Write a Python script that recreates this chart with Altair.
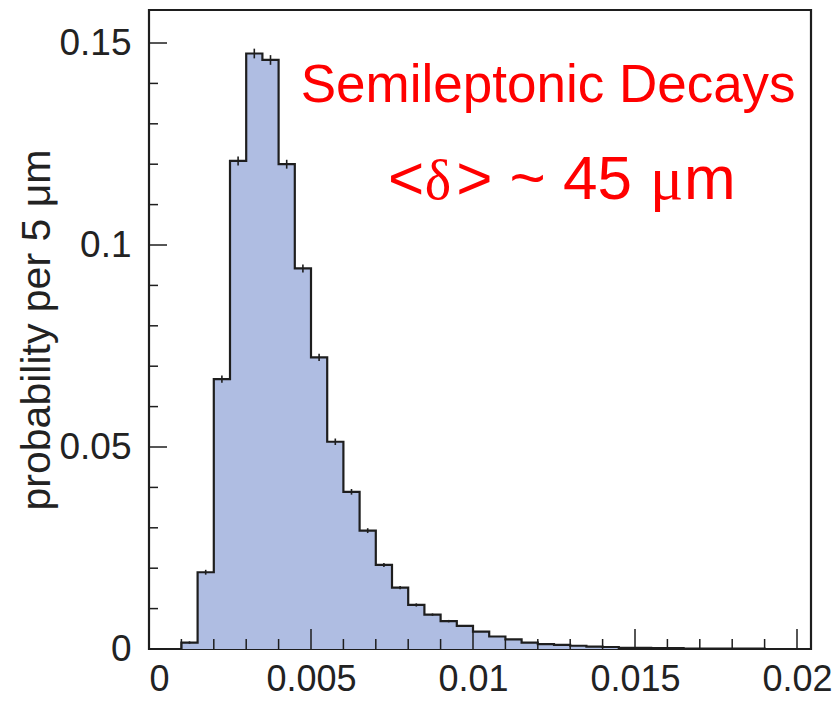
import altair as alt
import pandas as pd

# ---- data ----
bin_width = 0.0005
probability = [0, 0, 0.0016, 0.019, 0.0668, 0.1208, 0.1474, 0.1458,
               0.1200, 0.0942, 0.0722, 0.0513, 0.0389, 0.0293, 0.0208, 0.0152,
               0.0109, 0.0085, 0.0069, 0.0057, 0.0043, 0.0031, 0.0024, 0.0016,
               0.0012, 0.0010, 0.0008, 0.0006, 0.0005, 0.0003, 0.0003, 0.0002,
               0.0002, 0.0001, 0.0001, 0.0001, 0.0001, 0.0001, 0.0, 0.0]
errors = [0, 0, 0.0003, 0.0006, 0.0009, 0.0011, 0.0012, 0.0012,
          0.0011, 0.0010, 0.0009, 0.0008, 0.0007, 0.0006, 0.0005, 0.0004,
          0.0004, 0.0003, 0.0003, 0, 0, 0, 0, 0,
          0, 0, 0, 0, 0, 0, 0, 0,
          0, 0, 0, 0, 0, 0, 0, 0]

x_major = [0, 0.005, 0.01, 0.015, 0.02]
x_minor = [0.001, 0.002, 0.003, 0.004, 0.006, 0.007, 0.008, 0.009,
           0.011, 0.012, 0.013, 0.014, 0.016, 0.017, 0.018, 0.019]
y_major = [0, 0.05, 0.1, 0.15]
y_minor = [0.01, 0.02, 0.03, 0.04, 0.06, 0.07, 0.08, 0.09,
           0.11, 0.12, 0.13, 0.14]

title_line1 = "Semileptonic Decays"
# annotation anchor positions in data units
ann1 = {"x": 0.01232, "y": 0.1354}
ann2_y = 0.1114
ann2_pieces = [  # (text, x, font kind)
    ("<", 0.00738, "sans"),
    ("δ", 0.00892, "greek_c"),
    ("> ~ 45", 0.00948, "sans"),
    ("μ", 0.01546, "greek_l"),
    ("m", 0.01651, "sans"),
]

W, H = 662, 639
XDOM = [0, 0.020432]
YDOM = [0, 0.15817]
SANS = "Liberation Sans, Arial, Helvetica, sans-serif"
SERIF = "Liberation Serif, Times New Roman, serif"
INK = "#1e1e1e"
FILL = "#afbde2"

# ---- tables ----
n = len(probability)
edges = [i * bin_width for i in range(n + 1)]
hist = pd.DataFrame({"x": edges, "p": probability + [probability[-1]]})
errs = pd.DataFrame({
    "xc": [(i + 0.5) * bin_width for i in range(n)],
    "lo": [p - e for p, e in zip(probability, errors)],
    "hi": [p + e for p, e in zip(probability, errors)],
    "e": errors,
})

xs = alt.Scale(domain=XDOM, nice=False, zero=False)
ys = alt.Scale(domain=YDOM, nice=False, zero=False)

area = alt.Chart(hist).mark_area(
    interpolate="step-after", color=FILL, opacity=1,
    line=alt.OverlayMarkDef(color=INK, strokeWidth=2.2),
).encode(
    x=alt.X("x:Q", scale=xs, axis=alt.Axis(
        values=x_major, format="~g", ticks=False, domain=False, grid=False,
        labelFontSize=36, labelPadding=13, labelColor="#222", labelFont=SANS,
        title=None)),
    y=alt.Y("p:Q", scale=ys, axis=alt.Axis(
        values=y_major, format="~g", ticks=False, domain=False, grid=False,
        labelFontSize=37, labelPadding=18, labelColor="#222", labelFont=SANS,
        title="probability per 5 μm", titleFontSize=41, titleFontWeight="normal",
        titleFont=SANS, titleColor="#222", titlePadding=0)),
)

ebars = alt.Chart(errs).transform_filter("datum.e > 0").mark_rule(
    color=INK, strokeWidth=1.6).encode(
    x=alt.X("xc:Q", scale=xs), y=alt.Y("lo:Q", scale=ys), y2="hi:Q")

def xticks(vals, length):
    return alt.Chart(pd.DataFrame({"v": vals})).mark_rule(
        color=INK, strokeWidth=1.5).encode(
        x=alt.X("v:Q", scale=xs), y=alt.value(H), y2=alt.value(H - length))

def yticks(vals, length):
    return alt.Chart(pd.DataFrame({"v": vals})).mark_rule(
        color=INK, strokeWidth=1.5).encode(
        y=alt.Y("v:Q", scale=ys), x=alt.value(0), x2=alt.value(length))

t1 = alt.Chart(pd.DataFrame([{"x": ann1["x"], "y": ann1["y"], "t": title_line1}])).mark_text(
    color="#ff0000", fontSize=53, font=SANS, align="center", baseline="alphabetic"
).encode(x=alt.X("x:Q", scale=xs), y=alt.Y("y:Q", scale=ys), text="t:N")

pieces = pd.DataFrame([{"t": t, "x": x, "y": ann2_y, "kind": k} for t, x, k in ann2_pieces])

def piece(kind, font, size, align):
    return alt.Chart(pieces).transform_filter(f"datum.kind == '{kind}'").mark_text(
        color="#ff0000", fontSize=size, font=font, align=align, baseline="alphabetic"
    ).encode(x=alt.X("x:Q", scale=xs), y=alt.Y("y:Q", scale=ys), text="t:N")

t2s = piece("sans", SANS, 62, "left")
t2d = piece("greek_c", SERIF, 56, "center")
t2m = piece("greek_l", SERIF, 62, "left")

chart = alt.layer(
    area, ebars,
    xticks(x_major, 20), xticks(x_minor, 10),
    yticks(y_major, 18), yticks(y_minor, 9),
    t1, t2s, t2d, t2m,
).properties(
    width=W, height=H,
    autosize=alt.AutoSizeParams(type="none"),
    padding={"left": 141, "top": 2, "right": 21, "bottom": 52},
).configure_view(stroke=INK, strokeWidth=2.2)

chart.save("out.html", embed_options={"renderer": "svg", "actions": False})
